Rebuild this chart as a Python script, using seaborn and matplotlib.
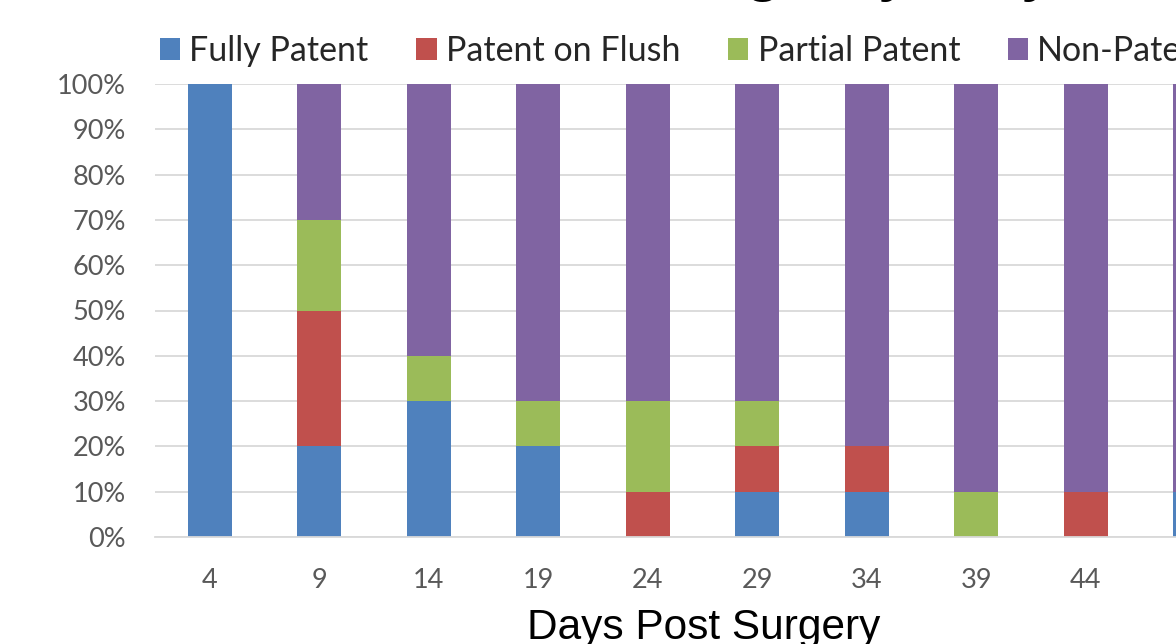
"""
Stacked patency bars by day post surgery (cropped view of a wider chart).
"""

import matplotlib.pyplot as plt
import seaborn as sns
from matplotlib.patches import Patch
from matplotlib.ticker import PercentFormatter

# data (fractions of catheters per day)
days = ["4", "9", "14", "19", "24", "29", "34", "39", "44", "49"]
fully_patent = [1.0, 0.2, 0.3, 0.2, 0.0, 0.1, 0.1, 0.0, 0.0, 0.1]
patent_on_flush = [0.0, 0.3, 0.0, 0.0, 0.1, 0.1, 0.1, 0.0, 0.1, 0.0]
partial_patent = [0.0, 0.2, 0.1, 0.1, 0.2, 0.1, 0.0, 0.1, 0.0, 0.0]
non_patent = [0.0, 0.3, 0.6, 0.7, 0.7, 0.7, 0.8, 0.9, 0.9, 0.9]

series_names = ["Fully Patent", "Patent on Flush", "Partial Patent", "Non-Patent"]
colors = ["#4F81BD", "#C0504D", "#9BBB59", "#8064A2"]

sns.set_style("white")
tick_font = ["Lato", "DejaVu Sans"]
arial = ["Liberation Sans", "DejaVu Sans"]

fig = plt.figure(figsize=(11.76, 6.44), dpi=100)
# the plot area runs past the right edge, like the cropped original
ax = fig.add_axes([155 / 1176, 107 / 644, 1095 / 1176, 453 / 644])

# stack by drawing cumulative totals from the top down
series = [fully_patent, patent_on_flush, partial_patent, non_patent]
for k in range(len(series) - 1, -1, -1):
    cum = [sum(s[i] for s in series[: k + 1]) for i in range(len(days))]
    sns.barplot(x=days, y=cum, order=days, color=colors[k], saturation=1,
                width=0.4, errorbar=None, linewidth=0, ax=ax, zorder=2)

ax.set_ylim(0, 1)
ax.set_xlim(-0.5, len(days) - 0.5)
ax.set_yticks([i / 10 for i in range(11)])
ax.yaxis.set_major_formatter(PercentFormatter(1.0, decimals=0))
ax.yaxis.grid(True, color="#D9D9D9", lw=1.3, zorder=0)
ax.set_axisbelow(True)
for side in ["top", "right", "left"]:
    ax.spines[side].set_visible(False)
ax.spines["bottom"].set_color("#D9D9D9")
ax.spines["bottom"].set_linewidth(1.3)
ax.tick_params(axis="both", length=0, labelsize=19.5, labelcolor="#595959")
ax.tick_params(axis="y", pad=21)
ax.tick_params(axis="x", pad=22)
for lab in ax.get_xticklabels() + ax.get_yticklabels():
    lab.set_family(tick_font)
ax.set_xlabel("")
ax.set_ylabel("")

fig.text(703.5 / 1176, 5 / 644, "Days Post Surgery", ha="center", va="baseline",
         fontsize=30.5, family=arial, color="black")

# title is mostly cut off above the picture
fig.text(1057 / 1176, 1 + 12 / 644, "Catheter Status Percentage by Day",
         ha="right", va="baseline", fontsize=50, family=arial, color="black")

handles = [Patch(facecolor=c, edgecolor="none") for c in colors]
fig.legend(handles, series_names, ncol=4, loc="center left",
           bbox_to_anchor=(160 / 1176, 1 - 51 / 644), frameon=False,
           borderpad=0, borderaxespad=0, handlelength=0.59, handleheight=0.59,
           handletextpad=0.27, columnspacing=1.41,
           prop={"family": tick_font, "size": 24.5})

plt.savefig("out.png", dpi=100)
